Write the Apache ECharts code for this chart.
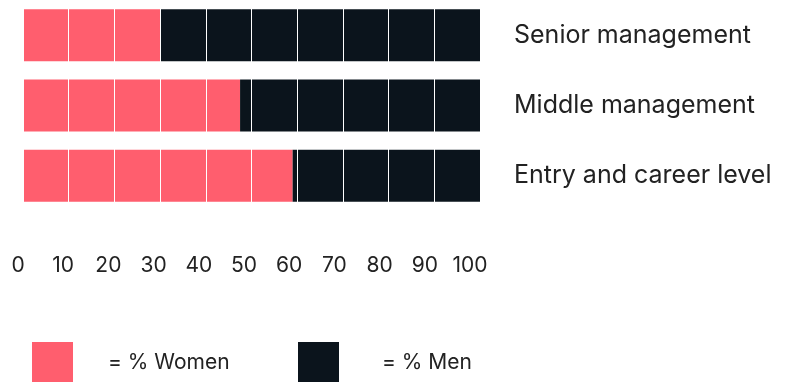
<!DOCTYPE html>
<html>
<head>
<meta charset="utf-8">
<script src="https://cdn.jsdelivr.net/npm/echarts@6/dist/echarts.min.js"></script>
<style>
html,body{margin:0;padding:0;background:#fff;}
#chart{width:796px;height:382px;}
</style>
</head>
<body>
<div id="chart"></div>
<script>
const categories = ['Senior management', 'Middle management', 'Entry and career level'];
const women = [30, 47.5, 59];
const men = [70, 52.5, 41];
const tickLabels = [0, 10, 20, 30, 40, 50, 60, 70, 80, 90, 100];
const legendNames = ['Women', 'Men'];

const PINK = '#FF5E6E';
const DARK = '#0B141C';
const FONT = 'Inter';
const TEXT = '#222222';

function legendCfg(name, left, gap) {
  return {
    data: [name],
    left: left,
    top: 342,
    padding: 0,
    itemWidth: 41,
    itemHeight: 41,
    icon: 'rect',
    formatter: n => '= % ' + n,
    textStyle: {fontFamily: FONT, fontSize: 21, color: TEXT, padding: [6, 0, 0, gap]},
    selectedMode: false
  };
}

const chart = echarts.init(document.getElementById('chart'), null, {renderer: 'canvas'});
chart.setOption({
  animation: false,
  textStyle: {fontFamily: FONT},
  grid: [
    {left: 23, width: 457, top: -5, height: 216},
    {left: 18, width: 452, top: 265, height: 1}
  ],
  legend: [
    legendCfg(legendNames[0], 32, 30),
    legendCfg(legendNames[1], 298, 38)
  ],
  xAxis: [
    {
      gridIndex: 0, type: 'value', min: 0, max: 100, interval: 10, z: 5,
      axisLine: {show: false}, axisTick: {show: false}, axisLabel: {show: false},
      splitLine: {show: true, lineStyle: {color: '#ffffff', width: 1}}
    },
    {
      gridIndex: 1, type: 'value', min: 0, max: 100, interval: 10,
      axisLine: {show: false}, axisTick: {show: false}, splitLine: {show: false},
      axisLabel: {
        margin: 0, verticalAlign: 'middle', fontFamily: FONT, fontSize: 21, color: TEXT,
        formatter: v => tickLabels.includes(v) ? String(v) : ''
      }
    }
  ],
  yAxis: [
    {
      gridIndex: 0, type: 'category', data: categories, inverse: true, position: 'right',
      axisLine: {show: false}, axisTick: {show: false}, splitLine: {show: false},
      axisLabel: {margin: 34, align: 'left', fontFamily: FONT, fontSize: 25, color: TEXT}
    },
    {
      gridIndex: 1, type: 'category', data: [''], show: false
    }
  ],
  series: [
    {
      name: legendNames[0], type: 'bar', stack: 'total', data: women, barWidth: 52,
      xAxisIndex: 0, yAxisIndex: 0, itemStyle: {color: PINK}
    },
    {
      name: legendNames[1], type: 'bar', stack: 'total', data: men, barWidth: 52,
      xAxisIndex: 0, yAxisIndex: 0, itemStyle: {color: DARK}
    }
  ]
});
</script>
</body>
</html>
